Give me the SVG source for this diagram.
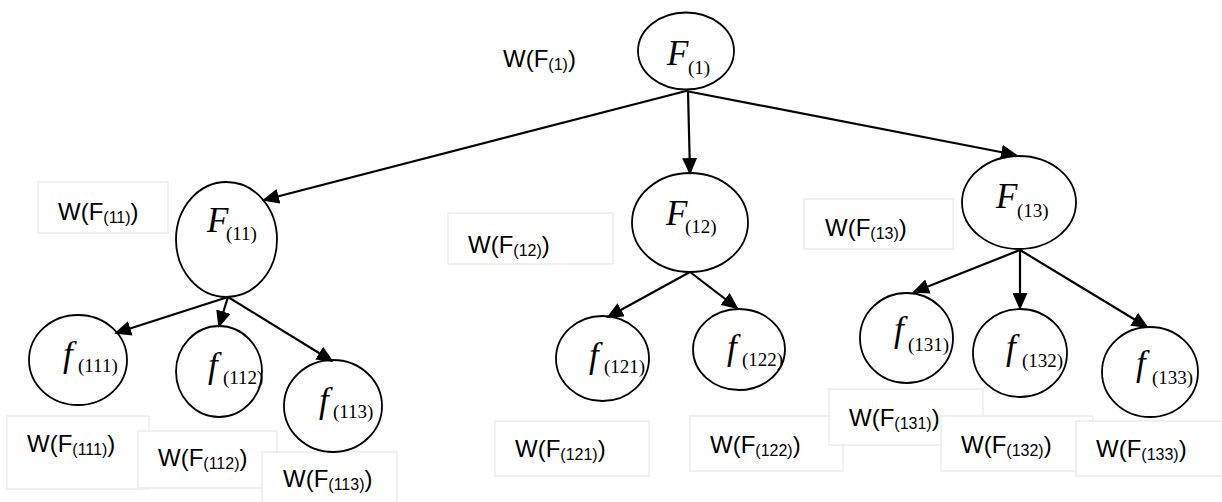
<svg xmlns="http://www.w3.org/2000/svg" width="1222" height="502" viewBox="0 0 1222 502">
<defs>
<marker id="ah" markerUnits="userSpaceOnUse" markerWidth="17" markerHeight="15" refX="15" refY="7.5" orient="auto">
<path d="M0,0 L17,7.5 L0,15 z" fill="#000"/>
</marker>
<style>
.nd{fill:#fff;stroke:#000;stroke-width:1.8}
.bx{fill:#fff;stroke:#ebebeb;stroke-width:1.5}
.w{font-family:"Liberation Sans",Arial,sans-serif;font-size:24px;fill:#000}
.ws{font-size:16px}
.it{font-family:"Liberation Serif","Times New Roman",serif;font-style:italic;font-size:35px;fill:#000}
.sb{font-family:"Liberation Serif","Times New Roman",serif;font-style:normal;font-size:19px}
.cn line{stroke:#000;stroke-width:2.2;marker-end:url(#ah)}
</style>
</defs>
<rect width="1222" height="502" fill="#fff"/>

<g id="label-W1">
<text class="w" x="503" y="67">W(F<tspan class="ws" dy="3">(1)</tspan><tspan dy="-3">)</tspan></text>
</g>

<g id="box-W11"><rect class="bx" x="38" y="182" width="130" height="51"/><text class="w" x="58" y="220">W(F<tspan class="ws" dy="3">(11)</tspan><tspan dy="-3">)</tspan></text></g>
<g id="box-W12"><rect class="bx" x="448" y="213" width="165" height="51"/><text class="w" x="468" y="253">W(F<tspan class="ws" dy="3">(12)</tspan><tspan dy="-3">)</tspan></text></g>
<g id="box-W13"><rect class="bx" x="804" y="199" width="149" height="50"/><text class="w" x="825" y="236">W(F<tspan class="ws" dy="3">(13)</tspan><tspan dy="-3">)</tspan></text></g>

<g id="box-W111"><rect class="bx" x="7" y="416" width="142" height="73"/><text class="w" x="27" y="452">W(F<tspan class="ws" dy="3">(111)</tspan><tspan dy="-3">)</tspan></text></g>
<g id="box-W112"><rect class="bx" x="138" y="431" width="139" height="57"/><text class="w" x="158" y="466">W(F<tspan class="ws" dy="3">(112)</tspan><tspan dy="-3">)</tspan></text></g>
<g id="box-W113"><rect class="bx" x="262" y="452" width="135" height="60"/><text class="w" x="283" y="487">W(F<tspan class="ws" dy="3">(113)</tspan><tspan dy="-3">)</tspan></text></g>
<g id="box-W121"><rect class="bx" x="495" y="421" width="154" height="55"/><text class="w" x="515" y="457">W(F<tspan class="ws" dy="3">(121)</tspan><tspan dy="-3">)</tspan></text></g>
<g id="box-W122"><rect class="bx" x="690" y="416" width="153" height="55"/><text class="w" x="710" y="453">W(F<tspan class="ws" dy="3">(122)</tspan><tspan dy="-3">)</tspan></text></g>
<g id="box-W131"><rect class="bx" x="829" y="389" width="154" height="56"/><text class="w" x="849" y="426">W(F<tspan class="ws" dy="3">(131)</tspan><tspan dy="-3">)</tspan></text></g>
<g id="box-W132"><rect class="bx" x="941" y="416" width="152" height="55"/><text class="w" x="961" y="453">W(F<tspan class="ws" dy="3">(132)</tspan><tspan dy="-3">)</tspan></text></g>
<g id="box-W133"><rect class="bx" x="1076" y="421" width="160" height="55"/><text class="w" x="1096" y="457">W(F<tspan class="ws" dy="3">(133)</tspan><tspan dy="-3">)</tspan></text></g>

<g id="node-F1"><ellipse class="nd" cx="686" cy="51" rx="48" ry="38.5"/><text class="it" x="667" y="65">F<tspan class="sb" x="688" y="74">(1)</tspan></text></g>
<g id="node-F11"><ellipse class="nd" cx="226.5" cy="239.5" rx="50.5" ry="57.5"/><text class="it" x="207" y="232">F<tspan class="sb" x="226" y="240">(11)</tspan></text></g>
<g id="node-F12"><ellipse class="nd" cx="690" cy="222.5" rx="58" ry="49.5"/><text class="it" x="666" y="225">F<tspan class="sb" x="685" y="233">(12)</tspan></text></g>
<g id="node-F13"><ellipse class="nd" cx="1019" cy="202.5" rx="57" ry="46.5"/><text class="it" x="996" y="208">F<tspan class="sb" x="1017" y="217">(13)</tspan></text></g>

<g id="node-f111"><ellipse class="nd" cx="78" cy="360" rx="49" ry="45"/><text class="it" x="63" y="366">f<tspan class="sb" x="78" y="372">(111)</tspan></text></g>
<g id="node-f112"><ellipse class="nd" cx="219" cy="371.5" rx="43" ry="45.5"/><text class="it" x="208" y="377">f<tspan class="sb" x="223" y="384">(112)</tspan></text></g>
<g id="node-f113"><ellipse class="nd" cx="333" cy="406" rx="49" ry="46"/><text class="it" x="319" y="412">f<tspan class="sb" x="333" y="418">(113)</tspan></text></g>
<g id="node-f121"><ellipse class="nd" cx="602.5" cy="358.5" rx="46.5" ry="42.5"/><text class="it" x="589" y="367">f<tspan class="sb" x="604" y="373">(121)</tspan></text></g>
<g id="node-f122"><ellipse class="nd" cx="739" cy="349.5" rx="46" ry="40.5"/><text class="it" x="727" y="359">f<tspan class="sb" x="742" y="366">(122)</tspan></text></g>
<g id="node-f131"><ellipse class="nd" cx="906.5" cy="338" rx="46.5" ry="45"/><text class="it" x="894" y="341">f<tspan class="sb" x="908" y="351">(131)</tspan></text></g>
<g id="node-f132"><ellipse class="nd" cx="1020" cy="353" rx="47" ry="44"/><text class="it" x="1006" y="359">f<tspan class="sb" x="1022" y="367">(132)</tspan></text></g>
<g id="node-f133"><ellipse class="nd" cx="1150" cy="372" rx="48" ry="45"/><text class="it" x="1136" y="375">f<tspan class="sb" x="1152" y="384">(133)</tspan></text></g>

<g id="connectors" class="cn">
<line x1="686" y1="91" x2="264" y2="200"/>
<line x1="688" y1="91" x2="690" y2="173"/>
<line x1="686" y1="91" x2="1016" y2="155"/>
<line x1="228" y1="297" x2="116" y2="333"/>
<line x1="228" y1="297" x2="219" y2="326"/>
<line x1="228" y1="297" x2="332" y2="361"/>
<line x1="690" y1="272" x2="608" y2="317"/>
<line x1="690" y1="272" x2="737" y2="308"/>
<line x1="1020" y1="250" x2="914" y2="292"/>
<line x1="1020" y1="250" x2="1020" y2="308"/>
<line x1="1020" y1="250" x2="1147" y2="327"/>
</g>
</svg>
